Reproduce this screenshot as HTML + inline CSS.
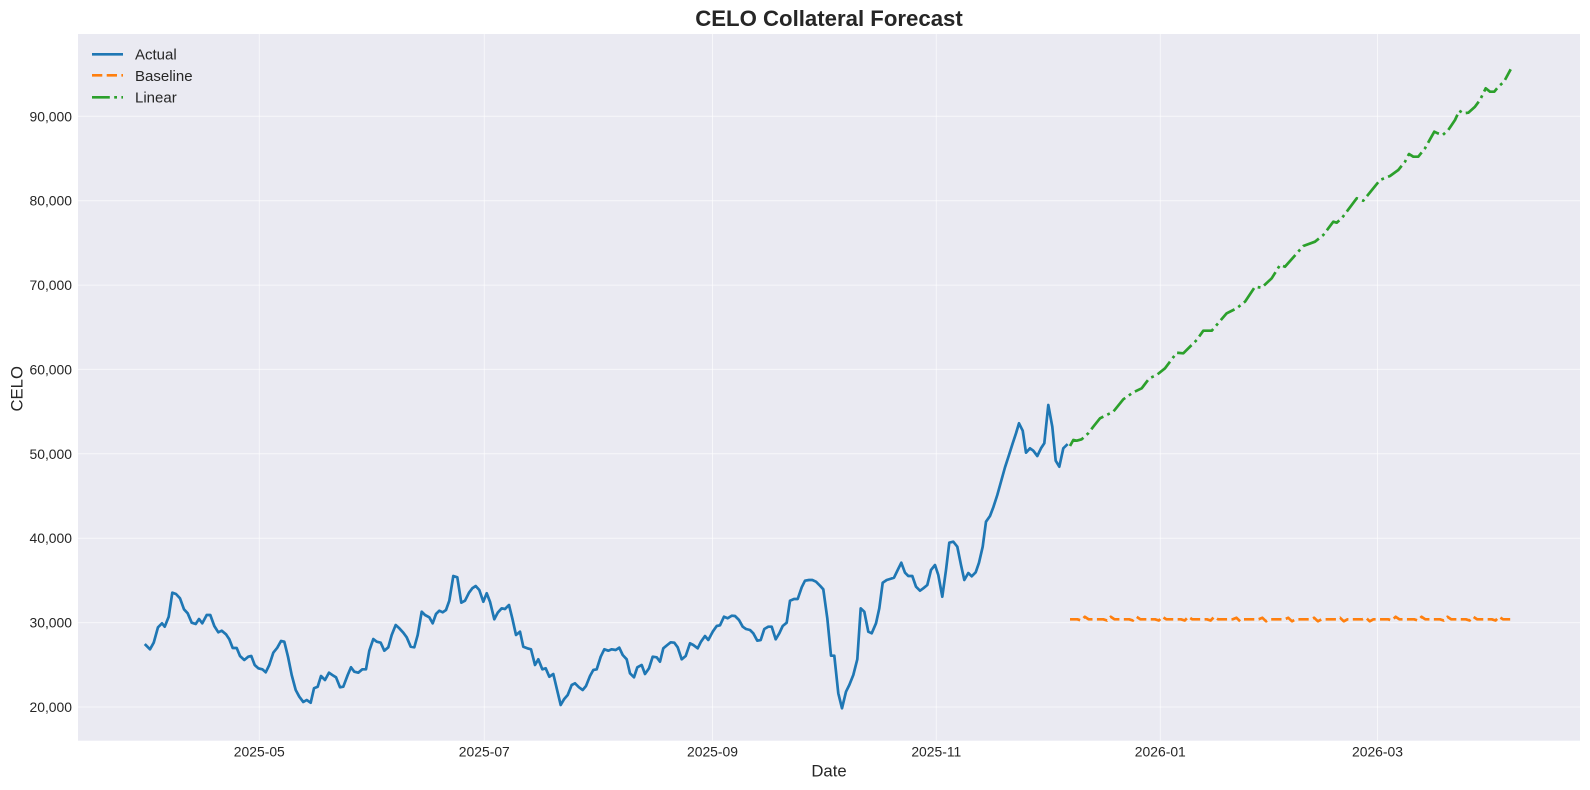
<!DOCTYPE html>
<html>
<head>
<meta charset="utf-8">
<style>
html,body{margin:0;padding:0;background:#fff;}
svg{display:block;}
text{font-family:"Liberation Sans",Arial,sans-serif;fill:#262626;}
</style>
</head>
<body>
<svg width="1590" height="790" viewBox="0 0 1590 790" xmlns="http://www.w3.org/2000/svg">
<rect x="0" y="0" width="1590" height="790" fill="#ffffff"/>
<rect x="78" y="34" width="1502" height="706.7" fill="#eaeaf2"/>
<g stroke="#ffffff" stroke-opacity="0.6" stroke-width="1">
<line x1="78" x2="1580" y1="707" y2="707"/>
<line x1="78" x2="1580" y1="622.6" y2="622.6"/>
<line x1="78" x2="1580" y1="538.2" y2="538.2"/>
<line x1="78" x2="1580" y1="453.8" y2="453.8"/>
<line x1="78" x2="1580" y1="369.4" y2="369.4"/>
<line x1="78" x2="1580" y1="285.1" y2="285.1"/>
<line x1="78" x2="1580" y1="200.7" y2="200.7"/>
<line x1="78" x2="1580" y1="116.3" y2="116.3"/>
<line y1="34" y2="740.7" x1="259.3" x2="259.3"/>
<line y1="34" y2="740.7" x1="484.3" x2="484.3"/>
<line y1="34" y2="740.7" x1="712.5" x2="712.5"/>
<line y1="34" y2="740.7" x1="936.3" x2="936.3"/>
<line y1="34" y2="740.7" x1="1160.3" x2="1160.3"/>
<line y1="34" y2="740.7" x1="1377.5" x2="1377.5"/>
</g>
<g font-size="13.9" text-anchor="end">
<text x="72" y="712">20,000</text>
<text x="72" y="627.6">30,000</text>
<text x="72" y="543.2">40,000</text>
<text x="72" y="458.8">50,000</text>
<text x="72" y="374.4">60,000</text>
<text x="72" y="290.1">70,000</text>
<text x="72" y="205.7">80,000</text>
<text x="72" y="121.3">90,000</text>
</g>
<g font-size="13.9" text-anchor="middle">
<text x="259.3" y="756.7">2025-05</text>
<text x="484.3" y="756.7">2025-07</text>
<text x="712.5" y="756.7">2025-09</text>
<text x="936.3" y="756.7">2025-11</text>
<text x="1160.3" y="756.7">2026-01</text>
<text x="1377.5" y="756.7">2026-03</text>
</g>
<text x="829" y="776.7" font-size="16.7" text-anchor="middle">Date</text>
<text x="0" y="0" font-size="16.7" text-anchor="middle" transform="translate(22.5,388.8) rotate(-90)">CELO</text>
<text x="829" y="26" font-size="22.2" font-weight="bold" text-anchor="middle">CELO Collateral Forecast</text>

<polyline fill="none" stroke="#1f77b4" stroke-width="2.7" stroke-linejoin="round" stroke-linecap="square" points="
145.7,645 150,649.3 153.7,642.7 158,627.3 162,623.3 164.7,626.7 168.7,616.7 172.3,592.7 176,594 180,598.3 184,609.3 187.7,613.3 191.7,622.7 195.7,624 199,619 202.3,623.3 206.7,615 210.3,615 214.3,626 218.3,632.3 221.7,630.7 226,634.3 229.3,639.3 232.7,648 236.7,648 240,656 244.3,660 248.3,656.7 251.3,656 254.7,665 258.3,668.3 262.3,669.3 265.7,672.3 269.3,665 273.3,652.7 277.3,647.7 281,641 284.3,641.7 288,656.7 291.7,675 295.7,690 299.3,696.7 303.3,702 306.7,700 310.7,702.7 314,688.3 317.7,686.7 321,676 325,680 329,672.7 332.3,675 336,677.3 340,687.3 343.3,686.7 347.7,675 351,667.3 354.3,671.7 358.3,672.7 362.3,669.3 366,669.3 369.3,650.7 373.3,639 376.7,641.7 380.7,642.7 384.3,650.7 388.3,647.3 391.7,635 395.7,625 399.3,628.3 403.3,632.7 406.7,637.3 410.7,646.7 414.3,647.3 417.7,635 421.7,611.7 425,615 429.3,617.3
432.7,623.3 436,614 439.3,610.7 442.7,612.3 446,610 449.3,600.7 453.3,576 457.3,577.3 461.3,602.7 465,600.7 469,592.7 472.3,588.3 475.7,586 479.3,590 483.3,601.7 486.7,593.3 490,601.7 494.3,619.3 497.7,612.7 501.7,608.3 505,609 509,605 512.3,618.3 516,635 520,631.7 523.3,646.7 527.3,648.3 531,649.3 535,665 538.3,659.3 542.3,669.3 545.7,668.3 549.3,676.7 553.3,674 556.7,688.3 560.7,705 564,699.3 567.7,695 571.7,685 575,683.3 579,687.3 582.7,690 586,686 590,676 593.3,670 596.7,669.3 600.7,656.7 604.3,649.3 608.3,650.7 611.7,649.3 615.7,650 619.3,647.7 622.7,655 626.7,659.3 630,673.3 634,677.3 637.3,667.3 641.7,665 645,674 649,668.3 652.7,656.7 656.7,657.3 660,661.7 663.3,648.3 667.3,645 670.7,642.3 674.3,642.7 677.7,647.3 681.7,659.3 685.7,656 690,643.3 693.3,645 697.7,648.3 701,641.7 705,636 708.3,640 712.7,631.7 716.7,626 720,625.3 724,616.7 727.7,618.3 731.7,615.7 735,616 739,620 742.7,626.7 746,629 750,630 753.3,633.3 757.3,640.7 760.7,640 764.3,629 768.3,626.7 771.7,626.7 775.7,639.3 779.3,633.3 782.7,626 786.7,622.7 790,600.7 794,599 797.7,599 801.7,587.3 805,580.7 809,580 812.3,580 816,581.7 820,585.7 823.3,589.3
827.3,618.3 831,655.7 834.3,655.7 838.3,693.3 842,708.3 846,691.7 849.3,685 853.3,675 857.3,659.3 860.7,608.3 864.3,611.7 868.3,631.7 871.7,633.3 876,623.3 879.3,608.3 882.7,582.7 886.7,580 890,579 894,577.7 897.7,570 901.3,562.7 905,572.7 908.3,576 912.3,576 916,586.7 920,590.7 923.3,588.3 927.3,585 931,570 935,565 938.3,575 942.3,596.7 946,570 949.3,542.7 953.3,541.7 957.3,546.7 961,565 964.3,580 968.3,573 971.7,576.3 975.7,572.3 979,562.7 982.7,546.7 986,521.7 990,516 993.3,507.3 997.3,495 1001,481.7 1005,467.3 1009,455 1012.7,443.3 1016,433.3 1019,423.3 1022.7,430.7 1026,452.7 1030,448.3 1033.3,450.7 1037.3,456 1041,448.3 1044.3,443.3 1048.3,405 1052.3,426.7 1055.7,460.7 1059.3,466.7 1063.3,448.3 1066.7,445"/>

<polyline fill="none" stroke="#ff7f0e" stroke-width="2.7" stroke-linejoin="round" stroke-dasharray="10.3 4.4" points="
1070,619.3 1077.4,619.3 1081.1,620.5 1084.8,616.8 1088.5,619.3
1103.3,619.3 1107,620.5 1110.7,616.8 1114.4,619.3
1129.2,619.3 1132.9,620.5 1136.6,616.8 1140.3,619.3
1155.1,619.3 1158.8,620.5 1162.5,616.8 1166.2,619.3
1181,619.3 1184.7,620.5 1188.4,616.8 1192.1,619.3
1206.9,619.3 1210.6,620.5 1214.3,616.8 1218,619.3
1232.8,619.3 1236.5,617.8 1240.2,621.3 1243.9,619.3
1258.7,619.3 1262.4,617.8 1266.1,621.3 1269.8,619.3
1284.6,619.3 1288.3,617.8 1292,621.3 1295.7,619.3
1310.5,619.3 1314.2,617.8 1317.9,621.3 1321.6,619.3
1336.4,619.3 1340.1,617.8 1343.8,621.3 1347.5,619.3
1362.3,619.3 1366,617.8 1369.7,621.3 1373.4,619.3
1388.2,619.3 1391.9,620.5 1395.6,616.8 1399.3,619.3
1414.1,619.3 1417.8,620.5 1421.5,616.8 1425.2,619.3
1440,619.3 1443.7,620.5 1447.4,616.8 1451.1,619.3
1465.9,619.3 1469.6,620.5 1473.3,616.8 1477,619.3
1491.8,619.3 1495.5,620.5 1499.2,616.8 1502.9,619.3 1510.3,619.3"/>

<polyline fill="none" stroke="#2ca02c" stroke-width="2.7" stroke-linejoin="round" stroke-dasharray="17.8 4.4 2.8 4.4" points="
1070,446 1073.3,440 1076.7,440.7 1081.7,439.3 1088.3,433.3 1093.3,426.7 1100,418.3 1113.3,411.7 1123.3,399.3 1133.3,392.3 1141.7,388.3 1149.3,378.3 1156.7,375 1165,368.3 1176.7,352.7 1183.3,353.3 1196.7,340 1203.3,330.7 1211.7,330.7 1226.7,313.3 1236.7,308.3 1245,301.7 1255,286.7 1261.7,287.7 1271.7,278.3 1280,265 1285,266.7 1303.3,246 1315,241.7 1323.3,235 1333.3,221.7 1336.7,222.7 1341.7,218.3 1356.7,198.3 1363.3,200.7 1380,180 1390,176 1398.3,170 1405,161.7 1409,154 1413.3,156.7 1418.3,156.7 1425,148.3 1430,139.3 1434.3,131.7 1437.7,133.3 1442.7,135 1448.3,130 1455,120 1459.3,110.7 1463.3,113.3 1468.3,112.7 1475,106.7 1480,100 1485.7,88.3 1490,91.7 1494.3,91.7 1498.3,86.7 1504,81.7 1510.7,69.3"/>

<g stroke-width="2.7">
<line x1="92" x2="123" y1="54.3" y2="54.3" stroke="#1f77b4"/>
<line x1="92" x2="123" y1="75.3" y2="75.3" stroke="#ff7f0e" stroke-dasharray="10.3 4.4"/>
<line x1="92" x2="123" y1="97.3" y2="97.3" stroke="#2ca02c" stroke-dasharray="17.8 4.4 2.8 4.4"/>
</g>
<g font-size="15">
<text x="135" y="59.5">Actual</text>
<text x="135" y="81">Baseline</text>
<text x="135" y="102.3">Linear</text>
</g>
</svg>
</body>
</html>
